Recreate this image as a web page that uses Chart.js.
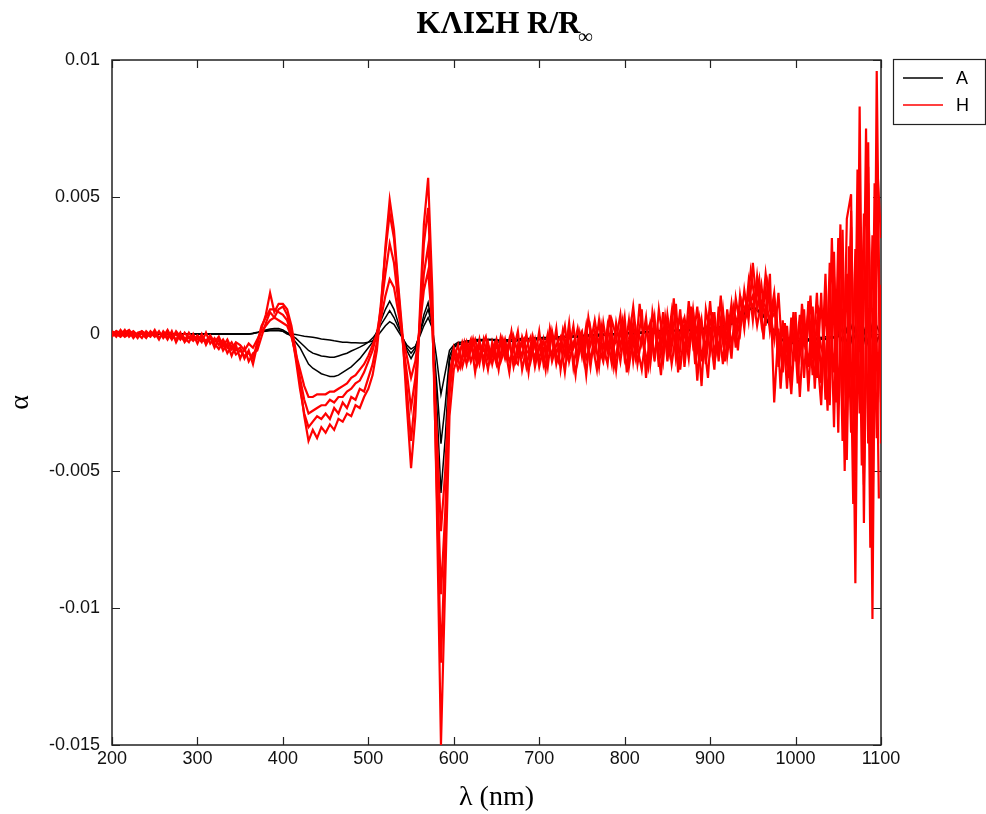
<!DOCTYPE html>
<html>
<head>
<meta charset="utf-8">
<title>ΚΛΙΣΗ R/R∞</title>
<script src="https://cdn.jsdelivr.net/npm/chart.js@4.4.1/dist/chart.umd.min.js"></script>
<style>
  html, body { margin: 0; padding: 0; background: #fff; }
  #wrap { width: 986px; height: 814px; }
</style>
</head>
<body>
<div id="wrap"><canvas id="chart" width="986" height="814"></canvas></div>
<script>
// wavelength grid (nm)
const wavelengths = [
  200, 205, 210, 215, 220, 225, 230, 235, 240, 245,
  250, 255, 260, 265, 270, 275, 280, 285, 290, 295,
  300, 305, 310, 315, 320, 325, 330, 335, 340, 345,
  350, 355, 360, 365, 370, 375, 380, 385, 390, 395,
  400, 405, 410, 415, 420, 425, 430, 435, 440, 445,
  450, 455, 460, 465, 470, 475, 480, 485, 490, 495,
  500, 505, 510, 515, 520, 525, 530, 535, 540, 545,
  550, 555, 560, 565, 570, 575, 580, 585, 590, 595,
  600, 605, 610, 615, 620, 625, 630, 635, 640, 645,
  650, 655, 660, 665, 670, 675, 680, 685, 690, 695,
  700, 705, 710, 715, 720, 725, 730, 735, 740, 745,
  750, 755, 760, 765, 770, 775, 780, 785, 790, 795,
  800, 805, 810, 815, 820, 825, 830, 835, 840, 845,
  850, 855, 860, 865, 870, 875, 880, 885, 890, 895,
  900, 905, 910, 915, 920, 925, 930, 935, 940, 945,
  950, 955, 960, 965, 970, 975, 980, 985, 990, 995,
  1000, 1005, 1010, 1015, 1020, 1025, 1030, 1035, 1040, 1045,
  1050, 1055, 1060, 1065, 1070, 1075, 1080, 1085, 1090, 1095,
  1100
];
// second, offset grid for the near-IR scan (nm)
const wavelengthsIR = [
  602.5, 607.5, 612.5, 617.5, 622.5, 627.5, 632.5, 637.5, 642.5, 647.5,
  652.5, 657.5, 662.5, 667.5, 672.5, 677.5, 682.5, 687.5, 692.5, 697.5,
  702.5, 707.5, 712.5, 717.5, 722.5, 727.5, 732.5, 737.5, 742.5, 747.5,
  752.5, 757.5, 762.5, 767.5, 772.5, 777.5, 782.5, 787.5, 792.5, 797.5,
  802.5, 807.5, 812.5, 817.5, 822.5, 827.5, 832.5, 837.5, 842.5, 847.5,
  852.5, 857.5, 862.5, 867.5, 872.5, 877.5, 882.5, 887.5, 892.5, 897.5,
  902.5, 907.5, 912.5, 917.5, 922.5, 927.5, 932.5, 937.5, 942.5, 947.5,
  952.5, 957.5, 962.5, 967.5, 972.5, 977.5, 982.5, 987.5, 992.5, 997.5,
  1002.5, 1007.5, 1012.5, 1017.5, 1022.5, 1027.5, 1032.5, 1037.5, 1042.5, 1047.5,
  1052.5, 1057.5, 1062.5, 1067.5, 1072.5, 1077.5, 1082.5, 1087.5, 1092.5, 1097.5
];

// group H spectra, alpha in units of 1e-3
const h1 = [
  0.05, -0.1, 0.15, -0.05, 0.1, -0.15, 0.05, 0.1, -0.1, 0.05,
  -0.1, 0.1, -0.15, 0.05, -0.2, 0.1, -0.1, -0.25, 0.05, -0.2,
  -0.1, -0.3, 0.05, -0.35, -0.15, -0.4, -0.2, -0.5, -0.3, -0.6,
  -0.5, -0.9, -0.6, -1.1, -0.4, 0.2, 0.7, 1.5, 0.8, 1.1,
  1.1, 0.9, 0.3, -0.6, -1.8, -3.0, -3.9, -3.5, -3.8, -3.4,
  -3.6, -3.3, -3.5, -3.1, -3.2, -2.9, -3.0, -2.6, -2.7, -2.3,
  -2.0, -1.5, -0.6, 1.0, 3.2, 4.9, 3.8, 1.8, 0.0, -2.6,
  -4.9, -3.0, 0.6, 4.0, 5.7, 1.5, -6.0, -15.0, -9.0, -3.0,
  -1.3, -0.8, -0.4, -1.1, -0.3, -0.9, -0.2, -1.2, -0.4, -0.8,
  -0.2, -1.0, -0.5, -1.4, -0.1, -0.7, -0.3, -1.2, -0.4, -0.9,
  0.1, -1.1, -0.3, -0.8, 0.2, -1.3, -0.2, -0.6, 0.3, -1.0,
  -0.1, -1.5, 0.2, -0.7, 0.5, -0.9, -0.2, -1.1, 0.4, -0.5,
  0.6, -1.2, -0.1, -0.6, 0.9, -1.6, 0.3, -0.8, 0.1, -1.0,
  0.7, -0.5, 1.1, -1.3, 0.2, -0.9, 0.8, -1.7, 0.4, -0.6,
  1.2, -0.8, 0.3, -1.1, 0.9, -0.4, 0.6, 0.0, 1.6, 0.5,
  2.6, 0.9, 1.8, 0.3, 2.2, -2.5, 0.2, -1.4, 0.3, -1.8,
  0.8, -2.3, 0.4, -1.2, 1.0, -1.6, 1.5, -2.4, 2.6, -3.4,
  3.5, -3.9, 4.2, 5.1, -9.1, 8.3, -6.9, 7.0, -10.4, 9.6,
  -4.0
];
const h2 = [
  -0.1, 0.1, -0.05, 0.15, -0.1, 0.05, -0.15, 0.1, 0.0, -0.1,
  0.15, -0.15, 0.05, -0.2, 0.1, -0.3, 0.0, -0.15, -0.3, 0.0,
  -0.35, 0.0, -0.4, -0.1, -0.5, -0.2, -0.6, -0.35, -0.8, -0.4,
  -0.9, -0.5, -1.0, -0.7, -0.6, -0.1, 0.4, 0.8, 0.6, 0.9,
  1.0, 0.7, 0.1, -0.9, -2.0, -2.9, -3.4, -3.2, -3.0, -3.1,
  -2.9, -3.1, -2.7, -2.9, -2.5, -2.7, -2.3, -2.4, -2.0, -2.1,
  -1.6, -1.1, -0.3, 1.2, 3.0, 4.4, 3.5, 1.6, -0.2, -2.0,
  -3.9, -2.2, 0.3, 3.3, 4.6, 0.6, -5.5, -12.0, -7.5, -2.2,
  -0.7, -1.3, -0.9, -0.3, -1.0, -0.5, -1.1, -0.2, -0.9, -0.5,
  -1.1, -0.3, -0.9, -0.2, -1.2, -0.4, -0.8, 0.0, -1.0, -0.3,
  -0.9, -0.2, -1.2, 0.1, -0.7, -0.3, -1.4, 0.0, -0.5, 0.2,
  -0.8, 0.3, -1.0, -0.1, -1.2, 0.4, -0.6, 0.1, -1.3, 0.2,
  -0.7, 0.5, -1.0, 0.2, -0.4, 0.6, -1.1, 0.3, -0.6, 0.8,
  -1.0, 0.4, -0.5, 0.9, -1.2, 0.5, -0.3, 1.0, -1.0, 0.3,
  -0.6, 0.8, -1.0, 0.7, -0.2, 1.1, -0.5, 1.4, 0.2, 1.9,
  0.5, 2.1, 0.6, 1.6, 0.1, 1.2, -1.2, 0.5, -2.0, 0.6,
  -1.0, 0.7, -1.6, 1.2, -0.9, 1.5, -1.8, 2.2, -2.6, 3.0,
  -3.6, 3.8, -4.6, 4.5, -5.0, 4.9, -5.5, 6.1, -7.1, 6.5,
  3.5
];
const h3 = [
  0.1, 0.0, -0.1, 0.05, 0.15, -0.05, 0.0, -0.15, 0.1, -0.05,
  0.05, -0.2, 0.1, -0.1, -0.05, -0.2, 0.05, -0.3, -0.1, -0.25,
  -0.05, -0.2, -0.3, -0.15, -0.35, -0.55, -0.3, -0.7, -0.45, -0.75,
  -0.6, -0.8, -0.7, -0.9, -0.3, 0.3, 0.6, 0.9, 0.9, 0.8,
  0.7, 0.5, 0.0, -0.8, -1.6, -2.4, -2.9, -2.8, -2.7, -2.6,
  -2.6, -2.4, -2.5, -2.3, -2.3, -2.1, -2.0, -1.8, -1.7, -1.4,
  -1.0, -0.6, 0.0, 1.0, 2.2, 3.3, 2.6, 1.2, -0.2, -1.4,
  -2.7, -1.6, 0.2, 2.2, 3.2, 0.4, -4.5, -9.5, -6.5, -1.8,
  -0.9, -0.4, -1.2, -0.6, -0.2, -1.4, -0.4, -0.9, -0.3, -1.1,
  -0.4, -0.8, -0.2, -1.0, -0.6, 0.1, -1.3, -0.5, -0.1, -1.2,
  -0.4, -0.7, 0.0, -1.0, -0.4, -0.1, -0.8, 0.4, -1.2, -0.2,
  0.1, -0.9, -0.4, 0.5, -0.5, -1.0, 0.3, -0.7, -0.2, 0.7,
  -0.9, -0.2, 1.0, -0.5, -1.3, 0.0, 0.4, -1.0, 0.9, -0.3,
  0.2, -1.1, 0.0, 0.6, -0.7, 1.2, -0.4, 0.3, -1.9, 0.9,
  0.0, -1.3, 1.0, -0.3, 0.4, -0.9, 1.3, 0.3, 0.9, 1.3,
  1.0, 1.7, 0.4, 2.2, 0.9, -0.2, 1.5, -1.0, -0.3, -2.2,
  0.3, -0.8, 0.9, -2.1, 0.6, -0.6, -2.6, 1.2, -1.9, 2.1,
  -2.5, 2.7, -3.3, 3.9, -4.2, 4.0, -5.1, 5.5, -4.4, 4.9,
  -2.5
];
const h4 = [
  0.0, 0.1, 0.05, -0.1, 0.0, 0.1, -0.05, 0.0, -0.15, 0.1,
  -0.05, 0.05, -0.1, 0.15, -0.15, 0.0, -0.2, 0.05, -0.15, -0.1,
  -0.2, -0.1, -0.25, -0.05, -0.3, -0.1, -0.45, -0.2, -0.55, -0.3,
  -0.4, -0.6, -0.35, -0.5, -0.2, 0.1, 0.3, 0.5, 0.6, 0.5,
  0.4, 0.3, -0.1, -0.7, -1.3, -1.9, -2.3, -2.3, -2.2, -2.2,
  -2.2, -2.1, -2.1, -2.0, -1.9, -1.8, -1.6, -1.5, -1.3, -1.1,
  -0.8, -0.4, 0.0, 0.6, 1.4, 2.0, 1.7, 0.8, -0.1, -0.8,
  -1.6, -1.0, 0.2, 1.6, 2.3, 0.2, -3.5, -7.2, -5.0, -1.5,
  -0.5, -1.0, -0.3, -0.8, -0.6, -0.2, -0.9, -0.5, -1.3, -0.3,
  -0.9, -0.1, -0.7, -0.4, -0.9, -1.1, -0.1, -0.6, -0.8, -0.2,
  -1.2, -0.5, -0.6, 0.0, -1.1, -0.4, 0.3, -1.0, -0.3, -0.7,
  -0.5, 0.0, -1.2, 0.1, -0.3, -0.4, -1.1, 0.5, -0.1, -1.0,
  0.2, -0.8, 0.4, -1.1, -0.1, 0.3, -0.6, 0.6, -1.2, 0.2,
  -0.5, 0.8, -0.9, 0.1, 0.6, -0.4, 0.9, -0.6, 0.5, -1.1,
  0.5, 0.1, -0.5, 0.9, -0.8, 0.6, 0.1, 0.8, 0.6, 1.0,
  1.4, 0.3, 1.2, 1.0, 0.5, 1.5, -0.4, 0.1, -1.1, 0.0,
  -0.6, 0.2, -0.4, 0.8, -1.5, 0.4, -0.5, -1.0, 0.9, -1.4,
  1.6, -2.8, 2.2, -3.6, 3.1, -2.9, 4.4, -4.0, 3.6, -3.8,
  1.8
];
// H scan on the offset grid, alpha in units of 1e-3
const h5 = [
  -0.6, -1.2, -0.3, -0.9, -0.2, -1.1, -0.5, -0.1, -1.0, -0.4,
  -1.3, -0.2, -0.8, 0.1, -1.0, -0.5, -0.2, -1.4, -0.1, -0.8,
  -0.3, -1.3, 0.2, -0.6, -1.0, 0.1, -0.9, -0.4, -1.5, 0.0,
  -1.0, 0.6, -0.4, -1.3, 0.3, -0.7, 0.7, -1.2, -0.3, 0.5,
  -1.4, 0.3, -0.8, 1.1, -0.4, -1.2, 0.8, -0.2, -1.5, 0.6,
  -0.6, 1.3, -1.4, 0.4, -0.3, 1.0, -1.1, 0.6, -0.2, -1.6,
  0.8, -0.5, 1.4, -1.0, 0.2, 1.0, -0.6, 1.2, 0.7, 2.3,
  1.2, 2.0, -0.2, 1.8, 0.6, 0.9, -2.0, 0.4, -1.6, 0.8,
  -1.8, 1.1, -0.6, 1.4, -2.0, 0.9, 0.5, -2.8, 3.5, -2.5,
  4.0, -5.0, 3.2, -6.2, 6.0, -4.8, 7.5, -7.8, 5.5, -6.0
];

// group A spectra, alpha in units of 1e-3
const a1 = [
  0, 0, 0, 0, 0, 0, 0, 0, 0, 0,
  0, 0, 0, 0, 0, 0, 0, 0, 0, 0,
  0, 0, 0, 0, 0, 0, 0, 0, 0, 0,
  0.0, 0.0, 0.0, 0.02, 0.05, 0.08, 0.1, 0.12, 0.12, 0.12,
  0.1, 0.05, 0.0, -0.02, -0.05, -0.08, -0.1, -0.12, -0.15, -0.18,
  -0.2, -0.22, -0.25, -0.27, -0.3, -0.3, -0.32, -0.32, -0.33, -0.33,
  -0.3, -0.25, -0.1, 0.1, 0.3, 0.45, 0.35, 0.1, -0.15, -0.4,
  -0.55, -0.45, -0.1, 0.3, 0.6, 0.2, -0.9, -2.2, -1.4, -0.6,
  -0.4, -0.3, -0.3, -0.25, -0.25, -0.2, -0.2, -0.2, -0.2, -0.2,
  -0.2, -0.25, -0.2, -0.22, -0.18, -0.2, -0.15, -0.2, -0.17, -0.15,
  -0.15, -0.12, -0.15, -0.1, -0.12, -0.1, -0.08, -0.1, -0.05, -0.08,
  -0.05, -0.05, -0.02, -0.05, 0.0, -0.02, 0.0, 0.02, 0.0, 0.03,
  0.05, 0.02, 0.05, 0.08, 0.05, 0.1, 0.08, 0.1, 0.12, 0.1,
  0.12, 0.15, 0.12, 0.15, 0.18, 0.15, 0.2, 0.18, 0.2, 0.22,
  0.2, 0.25, 0.22, 0.3, 0.35, 0.4, 0.5, 0.6, 0.8, 0.9,
  1.0, 0.9, 0.8, 0.6, 0.4, 0.1, -0.1, -0.2, -0.3, -0.3,
  -0.25, -0.3, -0.2, -0.25, -0.2, -0.15, -0.2, -0.1, -0.15, -0.1,
  0.0, -0.2, 0.1, -0.3, 0.2, -0.2, 0.1, -0.4, 0.3, -0.2,
  0.0
];
const a2 = [
  0, 0, 0, 0, 0, 0, 0, 0, 0, 0,
  0, 0, 0, 0, 0, 0, 0, 0, 0, 0,
  0, 0, 0, 0, 0, 0, 0, 0, 0, 0,
  0.0, 0.0, 0.0, 0.03, 0.06, 0.1, 0.15, 0.18, 0.2, 0.2,
  0.15, 0.05, -0.1, -0.3, -0.5, -0.8, -1.1, -1.25, -1.35, -1.45,
  -1.5, -1.55, -1.55, -1.5, -1.4, -1.3, -1.2, -1.05, -0.9, -0.7,
  -0.5, -0.3, 0.1, 0.5, 0.9, 1.2, 0.9, 0.4, -0.1, -0.6,
  -0.9, -0.6, 0.0, 0.7, 1.15, 0.3, -2.5, -5.8, -3.8, -1.0,
  -0.5, -0.4, -0.35, -0.3, -0.3, -0.28, -0.25, -0.25, -0.22, -0.2,
  -0.3, -0.28, -0.3, -0.25, -0.28, -0.25, -0.22, -0.25, -0.2, -0.22,
  -0.2, -0.18, -0.2, -0.15, -0.18, -0.15, -0.12, -0.15, -0.1, -0.12,
  -0.1, -0.08, -0.1, -0.05, -0.08, -0.05, -0.05, -0.02, -0.05, 0.0,
  0.0, 0.02, 0.0, 0.05, 0.02, 0.05, 0.05, 0.08, 0.05, 0.1,
  0.08, 0.1, 0.12, 0.1, 0.15, 0.12, 0.15, 0.18, 0.15, 0.2,
  0.18, 0.2, 0.25, 0.22, 0.3, 0.35, 0.45, 0.55, 0.7, 0.85,
  0.95, 0.85, 0.7, 0.55, 0.3, 0.05, -0.15, -0.25, -0.3, -0.35,
  -0.3, -0.25, -0.3, -0.2, -0.25, -0.2, -0.15, -0.2, -0.1, -0.15,
  0.1, -0.3, 0.2, -0.2, 0.3, -0.4, 0.2, -0.3, 0.4, -0.3,
  0.1
];
const a3 = [
  0, 0, 0, 0, 0, 0, 0, 0, 0, 0,
  0, 0, 0, 0, 0, 0, 0, 0, 0, 0,
  0, 0, 0, 0, 0, 0, 0, 0, 0, 0,
  0.0, 0.0, 0.0, 0.02, 0.05, 0.1, 0.12, 0.15, 0.15, 0.15,
  0.1, 0.0, -0.05, -0.15, -0.3, -0.45, -0.6, -0.7, -0.75, -0.8,
  -0.82, -0.85, -0.85, -0.8, -0.75, -0.7, -0.62, -0.55, -0.48, -0.4,
  -0.3, -0.15, 0.05, 0.35, 0.6, 0.85, 0.6, 0.25, -0.1, -0.5,
  -0.7, -0.5, 0.0, 0.5, 0.9, 0.25, -1.8, -4.0, -2.6, -0.8,
  -0.45, -0.35, -0.3, -0.3, -0.28, -0.25, -0.25, -0.22, -0.2, -0.2,
  -0.25, -0.22, -0.25, -0.2, -0.22, -0.18, -0.2, -0.15, -0.18, -0.15,
  -0.18, -0.15, -0.12, -0.15, -0.1, -0.12, -0.1, -0.08, -0.1, -0.05,
  -0.08, -0.05, -0.05, -0.02, -0.05, 0.0, -0.02, 0.0, 0.02, 0.0,
  0.02, 0.05, 0.02, 0.05, 0.08, 0.05, 0.1, 0.08, 0.1, 0.12,
  0.1, 0.12, 0.15, 0.12, 0.15, 0.18, 0.15, 0.2, 0.18, 0.2,
  0.22, 0.2, 0.25, 0.3, 0.32, 0.38, 0.48, 0.58, 0.75, 0.88,
  0.98, 0.88, 0.75, 0.58, 0.35, 0.08, -0.12, -0.22, -0.28, -0.32,
  -0.28, -0.22, -0.28, -0.18, -0.22, -0.18, -0.12, -0.18, -0.08, -0.12,
  -0.1, 0.2, -0.3, 0.3, -0.2, 0.3, -0.3, 0.4, -0.2, 0.3,
  -0.1
];

const groupA = [a1, a2, a3];
const groupH = [h1, h2, h3, h4];

const toPoints = (xs, vals) => vals.map((v, i) => ({ x: xs[i], y: v * 1e-3 }));

const datasets = [];
groupA.forEach(s => datasets.push({
  label: 'A', data: toPoints(wavelengths, s), borderColor: '#000', borderWidth: 1.5, order: 1
}));
groupH.forEach(s => datasets.push({
  label: 'H', data: toPoints(wavelengths, s), borderColor: '#ff0000', borderWidth: 2.2, order: 0
}));
datasets.push({
  label: 'H', data: toPoints(wavelengthsIR, h5), borderColor: '#ff0000', borderWidth: 2.2, order: 0
});

// box with inward ticks on all four sides, title and legend
const frame = {
  id: 'frame',
  beforeDatasetsDraw(chart) {
    const { ctx, chartArea: a, scales: { x, y } } = chart;
    ctx.save();
    ctx.strokeStyle = '#222';
    ctx.lineWidth = 1.5;
    ctx.strokeRect(a.left, a.top, a.right - a.left, a.bottom - a.top);
    ctx.lineWidth = 1.2;
    ctx.beginPath();
    x.ticks.forEach(t => {
      const px = Math.round(x.getPixelForValue(t.value)) + 0.5;
      ctx.moveTo(px, a.bottom); ctx.lineTo(px, a.bottom - 8);
      ctx.moveTo(px, a.top); ctx.lineTo(px, a.top + 8);
    });
    y.ticks.forEach(t => {
      const py = Math.round(y.getPixelForValue(t.value)) + 0.5;
      ctx.moveTo(a.left, py); ctx.lineTo(a.left + 8, py);
      ctx.moveTo(a.right, py); ctx.lineTo(a.right - 8, py);
    });
    ctx.stroke();
    ctx.restore();
  },
  afterDraw(chart) {
    const { ctx, chartArea: a } = chart;
    ctx.save();
    // title with subscript
    ctx.fillStyle = '#000';
    ctx.textBaseline = 'alphabetic';
    ctx.font = 'bold 31px "Liberation Serif"';
    const main = 'ΚΛΙΣΗ R/R';
    const w = ctx.measureText(main).width;
    const x0 = (a.left + a.right) / 2 + 2 - w / 2;
    ctx.fillText(main, x0, 33);
    ctx.font = 'bold 20px "Liberation Serif"';
    ctx.fillText('∞', x0 + w - 2, 43);

    // legend
    ctx.strokeStyle = '#222';
    ctx.lineWidth = 1.2;
    ctx.strokeRect(893.5, 59.5, 92, 65);
    ctx.font = '18px "Liberation Sans"';
    ctx.textBaseline = 'middle';
    [['A', '#000', 78], ['H', '#ff0000', 105]].forEach(([name, col, ly]) => {
      ctx.strokeStyle = col;
      ctx.lineWidth = 1.6;
      ctx.beginPath();
      ctx.moveTo(903, ly); ctx.lineTo(943, ly);
      ctx.stroke();
      ctx.fillStyle = '#000';
      ctx.fillText(name, 956, ly + 1);
    });
    ctx.restore();
  }
};

new Chart(document.getElementById('chart'), {
  type: 'line',
  data: { datasets },
  options: {
    responsive: false,
    animation: false,
    events: [],
    layout: { padding: { top: 60, right: 105, left: 0, bottom: 0 } },
    elements: { point: { radius: 0 }, line: { tension: 0 } },
    plugins: { legend: { display: false }, tooltip: { enabled: false } },
    scales: {
      x: {
        type: 'linear', min: 200, max: 1100,
        grid: { display: false, drawTicks: false },
        border: { display: false },
        ticks: { stepSize: 100, padding: 3, color: '#111', font: { family: 'Liberation Sans', size: 18 },
                 callback: v => String(v) },
        title: { display: true, text: 'λ (nm)', color: '#000', padding: { top: 0, bottom: 0 },
                 font: { family: 'Liberation Serif', size: 28 } },
        afterFit(s) { s.height = 69; }
      },
      y: {
        min: -0.015, max: 0.01,
        grid: { display: false, drawTicks: false },
        border: { display: false },
        ticks: { stepSize: 0.005, padding: 12, color: '#111', font: { family: 'Liberation Sans', size: 18 },
                 callback: v => String(+v.toFixed(3)) },
        title: { display: true, text: 'α', color: '#000', padding: { top: 4, bottom: 0 },
                 font: { family: 'Liberation Serif', size: 28 } },
        afterFit(s) { s.width = 112; }
      }
    }
  },
  plugins: [frame]
});
</script>
</body>
</html>
